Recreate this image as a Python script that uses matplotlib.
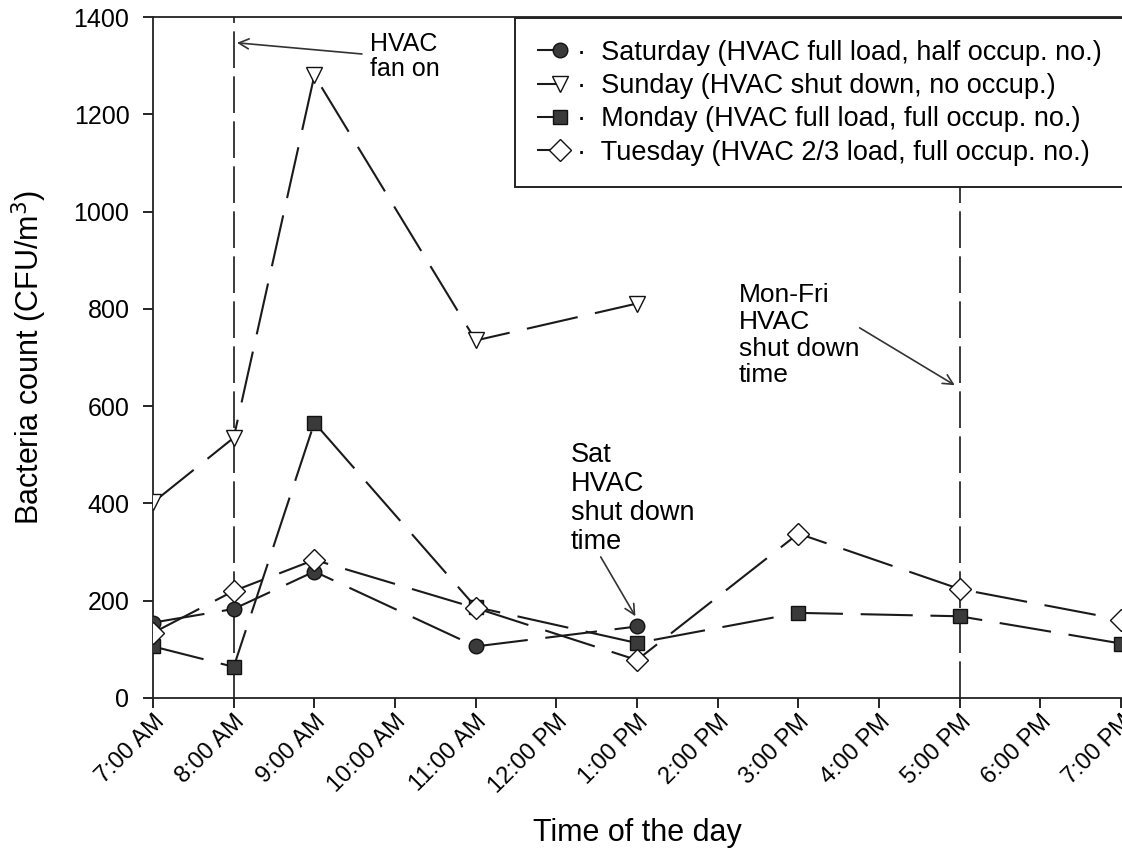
import numpy as np
import matplotlib
matplotlib.use("Agg")
import matplotlib.pyplot as plt
from matplotlib.legend_handler import HandlerLine2DCompound

plt.rcParams["font.family"] = ["Liberation Sans", "DejaVu Sans"]

# Data (hour of day, CFU/m3)
hours_short = [7, 8, 9, 11, 13]
hours_long = [7, 8, 9, 11, 13, 15, 17, 19]
saturday = [155, 183, 260, 106, 147]
sunday = [402, 535, 1280, 735, 811]
monday = [106, 64, 566, 187, 113, 175, 168, 112]
tuesday = [134, 220, 284, 185, 78, 338, 224, 161]

tick_hours = list(range(7, 20))
tick_labels = ["7:00 AM", "8:00 AM", "9:00 AM", "10:00 AM", "11:00 AM",
               "12:00 PM", "1:00 PM", "2:00 PM", "3:00 PM", "4:00 PM",
               "5:00 PM", "6:00 PM", "7:00 PM"]

labels = ["·  Saturday (HVAC full load, half occup. no.)",
          "·  Sunday (HVAC shut down, no occup.)",
          "·  Monday (HVAC full load, full occup. no.)",
          "·  Tuesday (HVAC 2/3 load, full occup. no.)"]


class EndMarker(HandlerLine2DCompound):
    # put the marker at the right end of the legend line
    def get_xdata(self, legend, xdescent, ydescent, width, height, fontsize):
        xdata = np.array([-xdescent, -xdescent + width])
        return xdata, np.array([-xdescent + width * 0.85])


fig = plt.figure(figsize=(11.22, 8.51), dpi=100)
ax = fig.add_axes([0.1364, 0.1798, 0.8627, 0.8002])

line_kw = dict(color="#1a1a1a", lw=1.5, dashes=(25, 8.5), zorder=3)
ax.plot(hours_short, saturday, marker="o", ms=10.5, mfc="#3a3a3a", mec="#111111",
        label=labels[0], **line_kw)
ax.plot(hours_short, sunday, marker="v", ms=12, mfc="white", mec="#111111",
        label=labels[1], **line_kw)
ax.plot(hours_long, monday, marker="s", ms=10, mfc="#3a3a3a", mec="#111111",
        label=labels[2], **line_kw)
ax.plot(hours_long, tuesday, marker="D", ms=11, mfc="white", mec="#111111",
        label=labels[3], **line_kw)

# HVAC on / off markers
ax.axvline(8, color="#1a1a1a", lw=1.2, dashes=(22, 5), zorder=2)
ax.axvline(17, color="#1a1a1a", lw=1.2, dashes=(22, 5), zorder=2)

ax.set_xlim(7, 19)
ax.set_ylim(0, 1400)
ax.set_yticks(range(0, 1401, 200))
ax.set_xticks(tick_hours)
ax.set_xticklabels(tick_labels, rotation=45, ha="right", va="top",
                   rotation_mode="anchor", fontsize=17)
ax.tick_params(axis="y", labelsize=18, direction="out", length=7, width=1.2, pad=10)
ax.tick_params(axis="x", direction="out", length=7, width=1.2, pad=2)
for s in ["left", "bottom", "top"]:
    ax.spines[s].set_linewidth(1.3)
    ax.spines[s].set_color("#222222")
ax.spines["right"].set_visible(False)

ax.set_xlabel("Time of the day", fontsize=22, labelpad=15)
ax.set_ylabel("Bacteria count (CFU/m$^3$)", fontsize=22, labelpad=18)

arrow = dict(arrowstyle="->", color="#333333", lw=1.2, mutation_scale=18,
             shrinkA=0, shrinkB=0)
ax.text(9.69, 1318, "HVAC\nfan on", fontsize=18, linespacing=1.05,
        ha="left", va="center")
ax.annotate("", xy=(8.04, 1347), xytext=(9.59, 1324), arrowprops=arrow)

ax.text(12.18, 410, "Sat\nHVAC\nshut down\ntime", fontsize=19.5,
        linespacing=1.16, ha="left", va="center")
ax.annotate("", xy=(12.98, 168), xytext=(12.55, 290), arrowprops=arrow)

ax.text(14.26, 746, "Mon-Fri\nHVAC\nshut down\ntime", fontsize=19,
        linespacing=1.15, ha="left", va="center")
ax.annotate("", xy=(16.94, 643), xytext=(15.76, 761), arrowprops=arrow)

leg = ax.legend(loc="upper left", bbox_to_anchor=(515 / 1122, 1 - 18 / 851),
                bbox_transform=fig.transFigure, borderaxespad=0, fontsize=19.5,
                handlelength=1.0, handletextpad=0.5, labelspacing=0.27,
                borderpad=0.8, fancybox=False, framealpha=1,
                handler_map={plt.Line2D: EndMarker()})
leg.get_frame().set_edgecolor("#222222")
leg.get_frame().set_linewidth(1.4)
leg.set_zorder(5)

fig.savefig("out.png", dpi=100)
